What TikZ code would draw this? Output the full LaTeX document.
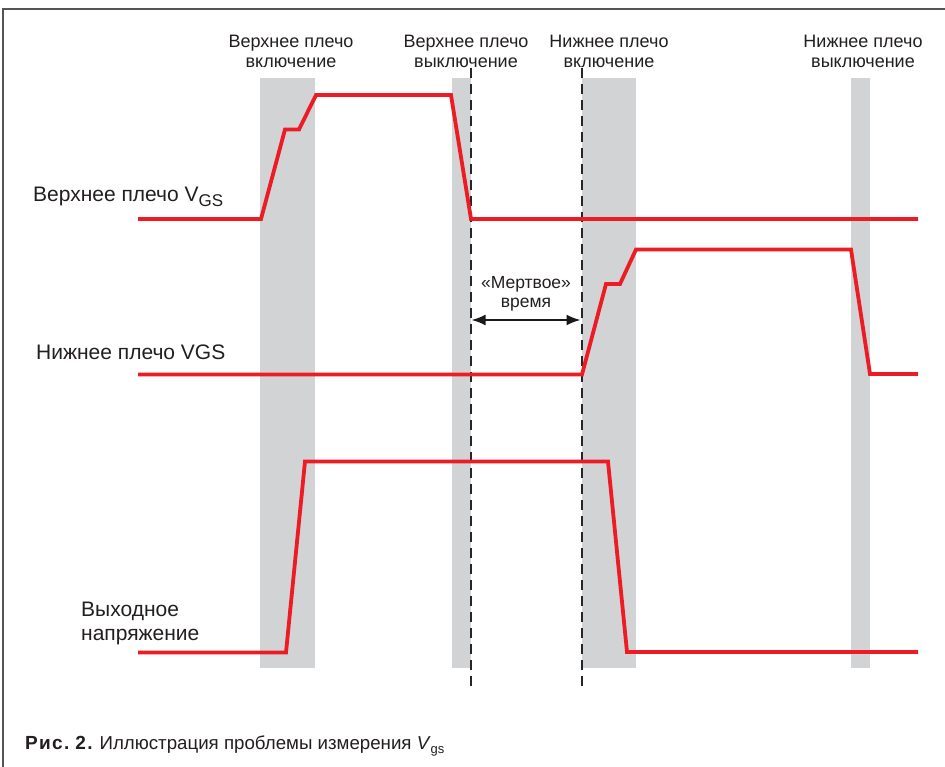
\documentclass[tikz,border=0pt]{standalone}
\usepackage{fontspec}
\setmainfont{Liberation Sans}
\newfontfamily\capbold[LetterSpace=7]{Liberation Sans Bold}
\usetikzlibrary{arrows.meta}
\definecolor{sig}{HTML}{ED1C24}
\definecolor{band}{HTML}{D1D3D4}
\definecolor{framec}{HTML}{555555}
\definecolor{txt}{HTML}{231F20}
\begin{document}
\begin{tikzpicture}[x=1pt,y=-1pt,
  trace/.style={sig, line width=3.8pt, line join=miter},
  bandbox/.style={fill=band, draw=none},
  deadline/.style={black!85, line width=2pt, dash pattern=on 10pt off 6pt},
  toplbl/.style={align=center, inner sep=0pt, text=txt, font=\fontsize{18}{20}\selectfont},
  sidelbl/.style={align=left, inner sep=0pt, text=txt, font=\fontsize{21}{24}\selectfont},
  dim/.style={black!90, line width=2pt, {Latex[length=14pt,width=11pt]}-{Latex[length=14pt,width=11pt]}}]
\useasboundingbox (0,0) rectangle (945,767);
\fill[white] (0,0) rectangle (945,767);
% frame
\draw[framec, line width=1.6pt] (3,767) -- (3,9) -- (945,9);
% gray bands
\fill[bandbox] (260,78) rectangle (315,668);
\fill[bandbox] (452,78) rectangle (471,668);
\fill[bandbox] (582,78) rectangle (636,668);
\fill[bandbox] (851,78) rectangle (870,668);
% dashed dead-time lines
\coordinate (d1t) at (470.5,68); \coordinate (d1b) at (470.5,688);
\coordinate (d2t) at (581.5,68); \coordinate (d2b) at (581.5,688);
\draw[deadline] (d1t) -- (d1b);
\draw[deadline] (d2t) -- (d2b);
% upper arm VGS
\draw[trace] (138,219) -- (261,219) -- (285,129.5) -- (299,129.5) -- (316,95) -- (451,95) -- (471,219) -- (918,219);
% lower arm VGS
\draw[trace] (138,374.5) -- (582,374.5) -- (606,284) -- (620,284) -- (636,249.5) -- (851,249.5) -- (870,374) -- (918,374);
% output voltage
\draw[trace] (138,652.5) -- (286,652.5) -- (305,461.5) -- (608,461.5) -- (627,652) -- (918,652);
% dead time arrow
\coordinate (a1) at (471.5,320); \coordinate (a2) at (580.5,320);
\draw[dim] (a1) -- (a2);
\node[toplbl, font=\fontsize{17.5}{19.5}\selectfont] (dead) at (526,294) {«Мертвое»\\время};
% top labels
\node[toplbl] (l1) at (291,51) {Верхнее плечо\\включение};
\node[toplbl] (l2) at (466,51) {Верхнее плечо\\выключение};
\node[toplbl] (l3) at (609,51) {Нижнее плечо\\включение};
\node[toplbl] (l4) at (863,51) {Нижнее плечо\\выключение};
% side labels
\node[sidelbl, anchor=base west] (s1) at (33,202) {Верхнее плечо V\raisebox{-4.5pt}{\fontsize{17}{17}\selectfont GS}};
\node[sidelbl, anchor=base west] (s2) at (36,359.5) {Нижнее плечо VGS};
\node[sidelbl, anchor=west] (s3) at (81,623) {Выходное\\напряжение};
% caption
\node[anchor=base west, inner sep=0pt, text=txt] (cap) at (25,749)
  {{\capbold\fontsize{19}{20}\selectfont Рис.\hspace{6pt}2.}\hspace{7pt}{\fontsize{18.7}{20}\selectfont Иллюстрация проблемы измерения \textit{V}\raisebox{-4pt}{\fontsize{13}{13}\selectfont gs}}};
\end{tikzpicture}
\end{document}
